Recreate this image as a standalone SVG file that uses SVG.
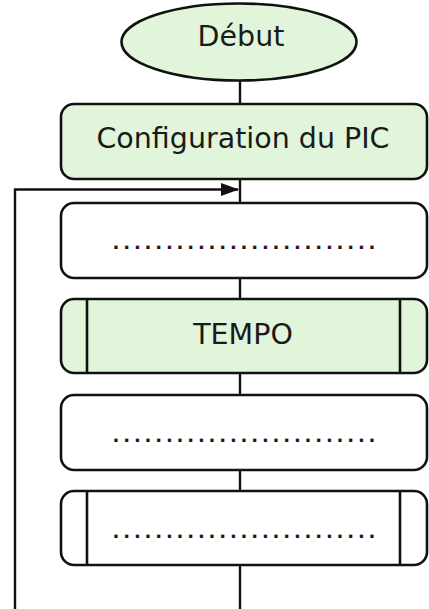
<svg xmlns="http://www.w3.org/2000/svg" width="429" height="609" viewBox="0 0 429 609">
<style>
.shape{stroke:#111;stroke-width:2.6;}
.green{fill:#e0f5da;}
.white{fill:#ffffff;}
.lbl{font-family:"DejaVu Sans",Verdana,sans-serif;font-size:28.5px;fill:#1a1a1a;text-anchor:middle;}
.dots{font-family:"DejaVu Sans",Verdana,sans-serif;font-size:18px;font-weight:bold;fill:#1a1a1a;letter-spacing:3.83px;}
.conn{stroke:#111;stroke-width:2.4;fill:none;}
</style>
<defs>
<marker id="arr" markerWidth="18" markerHeight="13" refX="17" refY="6.5" orient="auto" markerUnits="userSpaceOnUse">
<path d="M0,0 L18,6.5 L0,13 Z" fill="#111"/>
</marker>
</defs>
<rect width="429" height="609" fill="#ffffff"/>
<g id="connectors">
<line class="conn" x1="240" y1="80" x2="240" y2="105"/>
<line class="conn" x1="240" y1="179" x2="240" y2="203"/>
<line class="conn" x1="240" y1="278" x2="240" y2="299"/>
<line class="conn" x1="240" y1="373" x2="240" y2="395"/>
<line class="conn" x1="240" y1="470" x2="240" y2="491"/>
<line class="conn" x1="240" y1="565" x2="240" y2="609"/>
<polyline class="conn" points="15,609 15,189.5 238,189.5" marker-end="url(#arr)"/>
</g>
<g id="debut">
<ellipse class="shape green" cx="239" cy="42" rx="117.5" ry="38.5"/>
<text class="lbl" x="241" y="46" font-size="27">Début</text>
</g>
<g id="config">
<rect class="shape green" x="61" y="104" width="366" height="75" rx="13"/>
<text class="lbl" x="243" y="148">Configuration du PIC</text>
</g>
<g id="action1">
<rect class="shape white" x="61" y="203" width="366" height="75" rx="13"/>
<text class="dots" x="112.6" y="249">.........................</text>
</g>
<g id="tempo">
<rect class="shape green" x="61" y="299" width="366" height="74" rx="13"/>
<line class="shape" x1="87" y1="299" x2="87" y2="373"/>
<line class="shape" x1="400" y1="299" x2="400" y2="373"/>
<text class="lbl" x="243" y="344">TEMPO</text>
</g>
<g id="action2">
<rect class="shape white" x="61" y="395" width="366" height="75" rx="13"/>
<text class="dots" x="112.6" y="441.5">.........................</text>
</g>
<g id="subroutine">
<rect class="shape white" x="61" y="491" width="366" height="74" rx="13"/>
<line class="shape" x1="87" y1="491" x2="87" y2="565"/>
<line class="shape" x1="400" y1="491" x2="400" y2="565"/>
<text class="dots" x="112.6" y="537.5">.........................</text>
</g>
</svg>
